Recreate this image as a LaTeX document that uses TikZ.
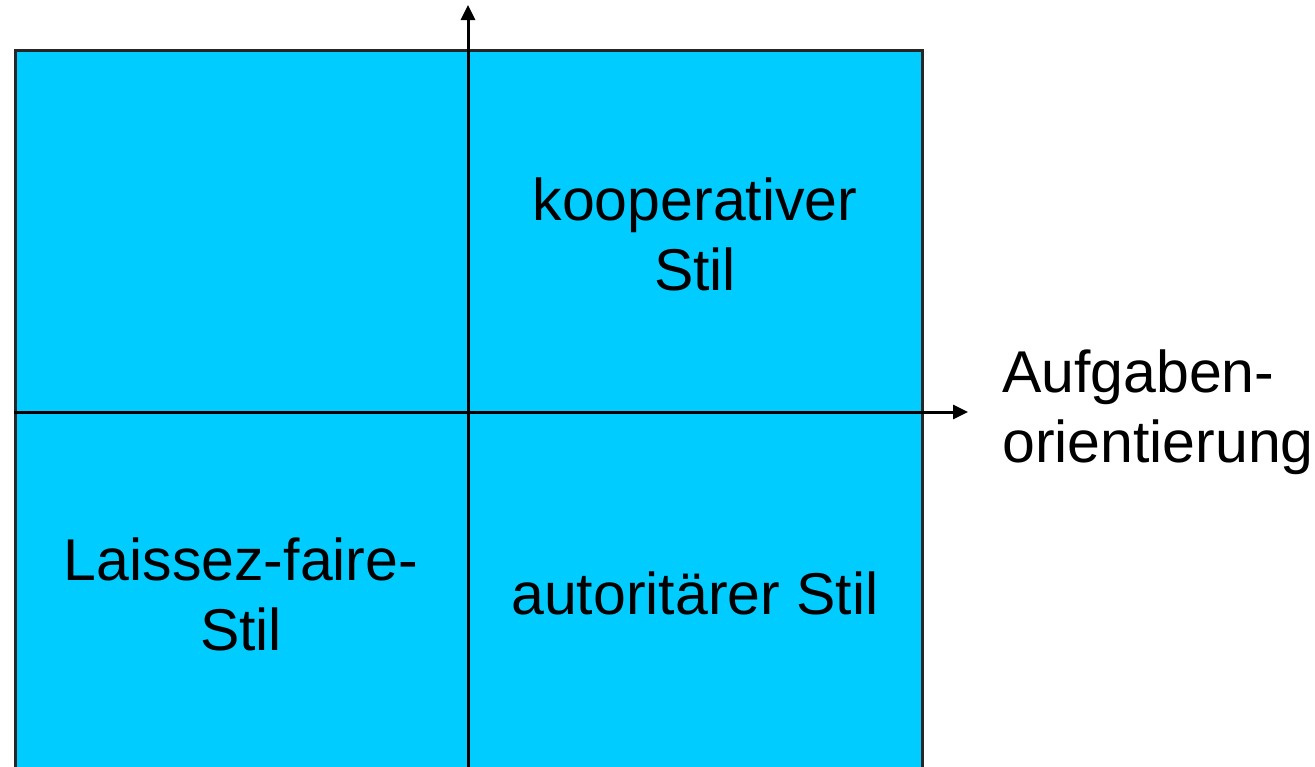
\documentclass[tikz,border=0pt]{standalone}
\usepackage{fontspec}
\setmainfont{Liberation Sans}
\usetikzlibrary{arrows.meta}
\definecolor{quad}{HTML}{00CCFF}
\tikzset{
  lbl/.style={font=\fontsize{59}{70}\selectfont, align=center, inner sep=0pt, anchor=base},
  axis/.style={line width=3pt, -{Triangle[length=15pt,width=14pt]}},
}
\begin{document}
\begin{tikzpicture}[x=1pt,y=-1pt]
\useasboundingbox (0,0) rectangle (1315,766);
\clip (0,0) rectangle (1315,766);
\node[draw=black!85, line width=3pt, fill=quad, minimum width=907pt, minimum height=760pt, anchor=north west, inner sep=0pt] (box) at (14,49) {};
\coordinate (vb) at (468,800);
\coordinate (vt) at (468,5);
\coordinate (hl) at (14,412);
\coordinate (hr) at (968,412);
\draw[axis] (vb) -- (vt);
\draw[axis] (hl) -- (hr);
\node[lbl] (koop) at (695,290) {kooperativer\\Stil};
\node[lbl] (laissez) at (241,650) {Laissez-faire-\\Stil};
\node[lbl] (auto) at (695,614) {autoritärer Stil};
\node[lbl, align=left, anchor=base west] (aufg) at (1002,462) {Aufgaben-\\orientierung};
\end{tikzpicture}
\end{document}
